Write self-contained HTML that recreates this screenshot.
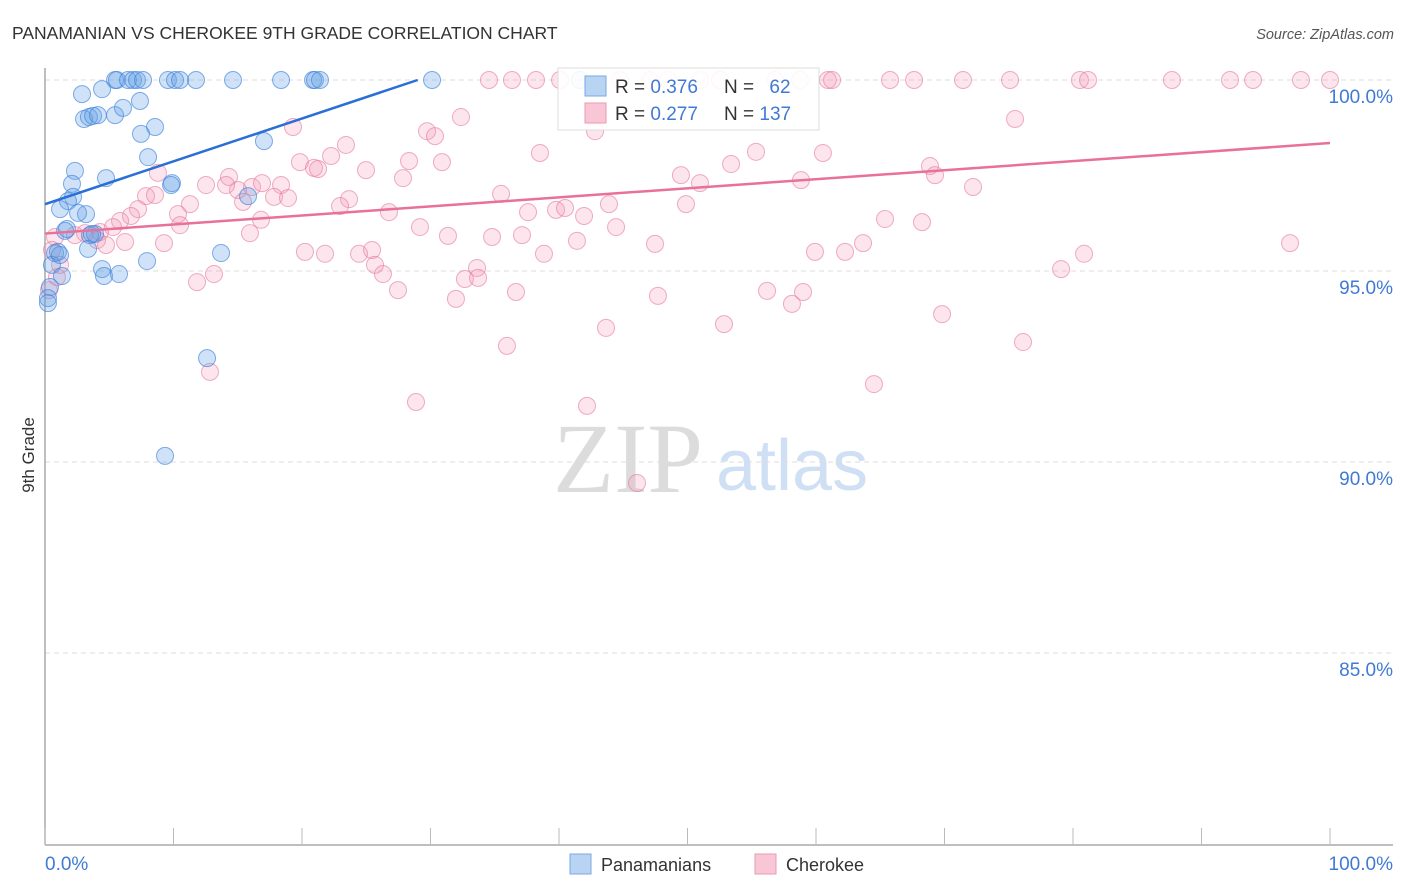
<!DOCTYPE html>
<html><head><meta charset="utf-8"><style>
body{margin:0;background:#fff;}
svg{display:block;font-family:"Liberation Sans",sans-serif;}
</style></head><body>
<svg id="chart" width="1406" height="892" viewBox="0 0 1406 892">
<text x="12" y="39" font-size="17.5" fill="#333">PANAMANIAN VS CHEROKEE 9TH GRADE CORRELATION CHART</text>
<text x="1394" y="39" font-size="14.5" fill="#555" font-style="italic" text-anchor="end">Source: ZipAtlas.com</text>
<text transform="translate(34,455) rotate(-90)" font-size="17" fill="#333" text-anchor="middle">9th Grade</text>
<g>
<text x="553" y="492" font-family="Liberation Serif,serif" font-size="100" fill="#dcdcdc">ZIP</text>
<text x="716" y="490" font-size="72" fill="#cfe0f5">atlas</text>
</g>
<g id="grid"></g><g id="axes"></g><g id="pts"></g><g id="lines"></g>
<g>
<rect x="558" y="68" width="261" height="62" fill="#fff" fill-opacity="0.9" stroke="#ddd"/>
<rect x="585" y="76" width="21" height="20" fill="#b9d3f3" stroke="#7aa9e4"/>
<rect x="585" y="103" width="21" height="20" fill="#f9c6d5" stroke="#eb9ab3"/>
<text x="615" y="93" font-size="19" fill="#333">R = <tspan fill="#3f7ad4">0.376</tspan></text>
<text x="724" y="93" font-size="19" fill="#333">N = <tspan fill="#3f7ad4" dx="10">62</tspan></text>
<text x="615" y="120" font-size="19" fill="#333">R = <tspan fill="#3f7ad4">0.277</tspan></text>
<text x="724" y="120" font-size="19" fill="#333">N = <tspan fill="#3f7ad4">137</tspan></text>
</g>
<g>
<rect x="570" y="854" width="21" height="20" fill="#b9d3f3" stroke="#7aa9e4"/>
<text x="601" y="871" font-size="18" fill="#333">Panamanians</text>
<rect x="755" y="854" width="21" height="20" fill="#f9c6d5" stroke="#eb9ab3"/>
<text x="786" y="871" font-size="18" fill="#333">Cherokee</text>
</g>
</svg>
<script>
const yTicks=[100,95,90,85];
const yTickLabels=["100.0%","95.0%","90.0%","85.0%"];
const xTickLabels=["0.0%","100.0%"];
const blueX=[5.45,5.60,6.46,6.85,7.16,7.63,9.57,10.12,11.75,14.63,18.37,20.86,21.01,30.12,41.63,2.88,4.44,3.04,3.42,3.74,4.12,5.45,6.07,7.39,8.56,7.47,8.02,17.04,2.33,4.75,2.10,9.88,9.81,2.18,1.79,1.17,3.19,2.57,1.56,1.71,3.50,3.89,0.78,1.01,13.70,7.94,0.54,3.35,4.44,4.59,5.76,1.32,0.39,0.23,0.23,12.61,9.34,15.80,10.51,21.40,3.66,1.17];
const blueY=[100,100,100,100,100,100,100,100,100,100,100,100,100,100,100,99.63,99.76,98.98,99.03,99.06,99.08,99.08,99.27,99.45,98.77,98.59,97.98,98.40,97.62,97.43,97.28,97.30,97.25,96.94,96.83,96.62,96.49,96.52,96.05,96.10,95.94,95.97,95.47,95.50,95.47,95.26,95.16,95.58,95.05,94.87,94.92,94.87,94.58,94.29,94.16,92.72,90.16,96.96,100,100,95.97,95.42];
const pinkX=[34.55,36.34,38.21,47.08,48.48,50.97,52.53,56.81,60.93,61.25,65.76,67.63,71.44,75.10,80.54,81.17,87.70,92.22,94.01,97.74,100,42.80,19.30,23.42,29.73,30.35,32.37,38.52,75.49,22.26,19.84,20.93,21.25,28.33,30.89,24.98,27.86,14.32,12.53,16.11,18.37,8.79,15.02,16.89,14.09,7.86,8.56,17.82,18.91,23.66,22.96,15.41,11.28,7.24,10.35,6.69,5.84,5.29,4.28,3.11,2.33,4.05,6.23,4.75,0.78,0.54,9.26,10.51,16.81,15.95,26.77,29.18,31.36,34.79,35.49,37.12,37.59,39.77,40.47,41.95,41.40,44.44,38.83,20.23,21.79,24.44,25.45,25.68,26.30,27.47,31.98,32.68,33.62,33.70,36.65,35.95,28.87,42.18,46.07,12.84,11.83,13.15,0.93,1.17,0.31,47.70,47.47,49.49,50.97,53.39,55.33,58.83,60.54,49.88,43.89,52.84,56.19,58.99,58.13,59.92,62.26,63.66,64.51,65.37,68.25,68.87,72.22,69.26,69.81,76.11,79.07,80.86,96.89,43.66,44.75,40.08,58.75];
const pinkY=[100,100,100,100,100,100,100,100,100,100,100,100,100,100,100,100,100,100,100,100,100,98.66,98.77,98.30,98.66,98.53,99.03,98.09,98.98,98.01,97.85,97.70,97.67,97.88,97.85,97.64,97.43,97.46,97.25,97.20,97.25,97.57,97.12,97.30,97.25,96.96,96.99,96.94,96.91,96.88,96.70,96.81,96.75,96.62,96.49,96.44,96.31,96.15,96.02,95.99,95.94,95.81,95.76,95.68,95.89,95.55,95.73,96.20,96.34,95.99,96.54,96.15,95.92,95.89,97.02,95.94,96.54,96.60,96.65,96.44,95.79,96.15,95.45,95.50,95.45,95.45,95.55,95.16,94.92,94.50,94.27,94.79,95.08,94.82,94.45,93.04,91.57,91.47,89.45,92.36,94.71,94.92,94.84,95.16,94.50,94.35,95.71,97.51,97.30,97.80,98.12,97.38,98.09,96.75,96.75,93.61,94.48,94.45,94.14,95.50,95.50,95.73,92.04,96.36,96.28,97.75,97.20,97.51,93.87,93.14,95.05,95.45,95.73,93.51,100,100,100,100];
const blueTrend=[0,96.75,29,100];
const pinkTrend=[0,95.98,100,98.35];
const NS="http://www.w3.org/2000/svg";
function sx(v){return 45+v*12.85;}
function sy(v){return 80+(100-v)*38.2;}
function mk(tag,attrs,parent){const e=document.createElementNS(NS,tag);for(const k in attrs)e.setAttribute(k,attrs[k]);parent.appendChild(e);return e;}
const grid=document.getElementById('grid'),axes=document.getElementById('axes'),pts=document.getElementById('pts'),lines=document.getElementById('lines');
yTicks.forEach((t,i)=>{
 const l=mk('line',{x1:45,x2:1393,y1:sy(t),y2:sy(t),stroke:'#ddd','stroke-dasharray':'5,4'},grid);
 
 
 const tx=mk('text',{x:1393,y:sy(t)+23,'text-anchor':'end','font-size':19,fill:'#3f7ad4'},grid);
 tx.textContent=yTickLabels[i];
 
 
});
let a=mk('line',{x1:45,x2:45,y1:68,y2:845,stroke:'#aaa','stroke-width':1.5},axes);


a=mk('line',{x1:45,x2:1393,y1:845,y2:845,stroke:'#aaa','stroke-width':1.5},axes);


for(let i=0;i<=10;i++){
 const tk=mk('line',{x1:sx(i*10),x2:sx(i*10),y1:828,y2:845,stroke:'#bbb'},axes);
 
 
}
let xl=mk('text',{x:45,y:870,'font-size':19,fill:'#3f7ad4'},axes);xl.textContent=xTickLabels[0];


xl=mk('text',{x:1393,y:870,'font-size':19,fill:'#3f7ad4','text-anchor':'end'},axes);xl.textContent=xTickLabels[1];


pinkX.forEach((x,i)=>{
 const c=mk('circle',{cx:sx(x),cy:sy(pinkY[i]),r:8.5,fill:'rgba(242,150,178,0.25)',stroke:'rgba(230,120,155,0.6)','stroke-width':1},pts);
 
 
});
blueX.forEach((x,i)=>{
 const c=mk('circle',{cx:sx(x),cy:sy(blueY[i]),r:8.5,fill:'rgba(100,160,230,0.3)',stroke:'rgba(60,130,220,0.65)','stroke-width':1},pts);
 
 
});
let tl=mk('line',{x1:sx(blueTrend[0]),y1:sy(blueTrend[1]),x2:sx(blueTrend[2]),y2:sy(blueTrend[3]),stroke:'#2a6fd6','stroke-width':2.5},lines);


tl=mk('line',{x1:sx(pinkTrend[0]),y1:sy(pinkTrend[1]),x2:sx(pinkTrend[2]),y2:sy(pinkTrend[3]),stroke:'#e8709a','stroke-width':2.5},lines);


</script>
</body></html>
